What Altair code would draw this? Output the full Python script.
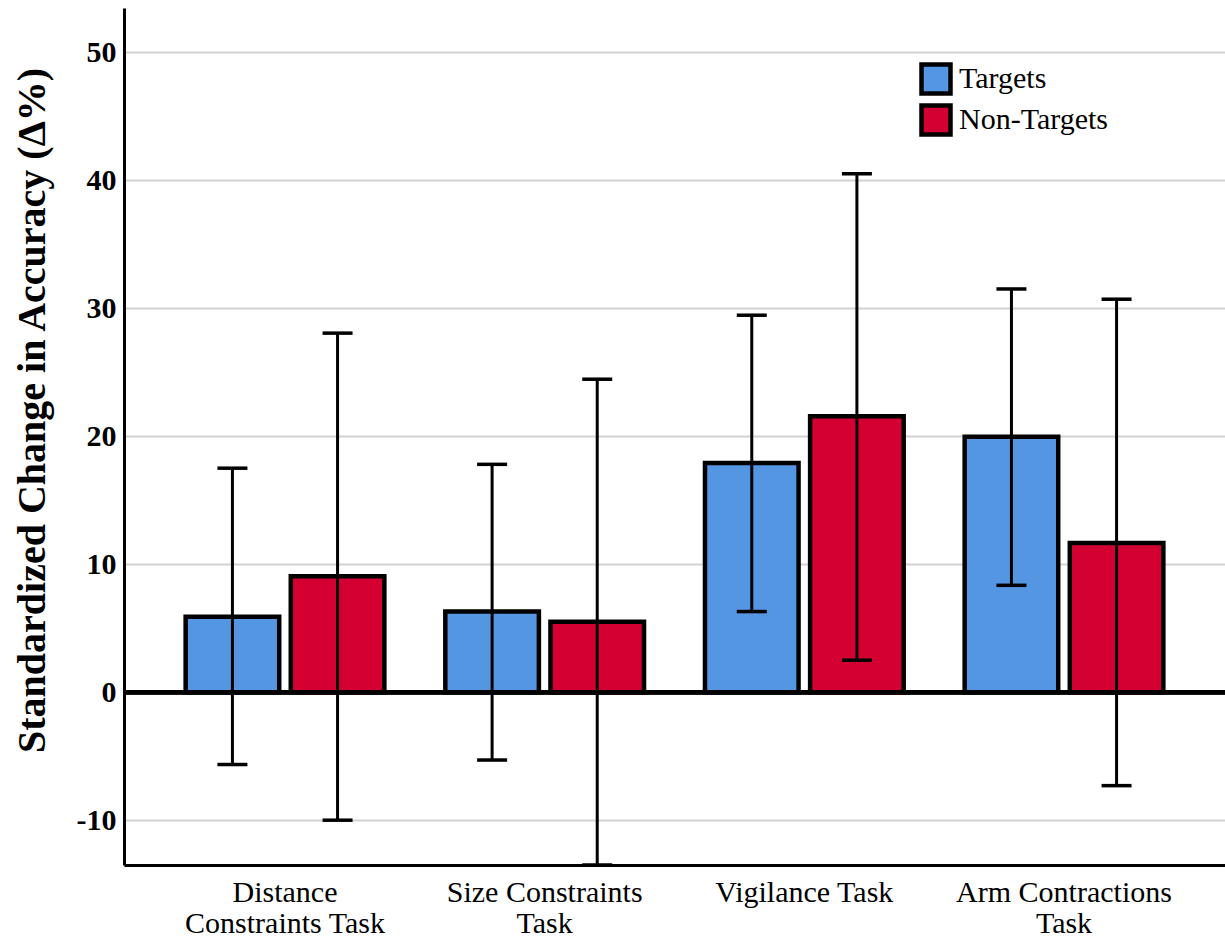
import altair as alt
import pandas as pd

# Task categories ("|" marks a line break in the axis label)
tasks = ["Distance|Constraints Task", "Size Constraints|Task", "Vigilance Task", "Arm Contractions|Task"]
groups = ["Targets", "Non-Targets"]

# Mean standardized change in accuracy (Δ%) with error bar limits
target_mean = [5.9, 6.3, 17.9, 19.95]
target_low = [-5.65, -5.3, 6.3, 8.35]
target_high = [17.5, 17.8, 29.45, 31.5]

nontarget_mean = [9.05, 5.5, 21.55, 11.65]
nontarget_low = [-10.0, -13.5, 2.5, -7.3]
nontarget_high = [28.05, 24.45, 40.5, 30.7]

colors = ["#5596E3", "#D50032"]
FONT = "Liberation Serif"

rows = []
for i, t in enumerate(tasks):
    rows.append(dict(task=t, group=groups[0], mean=target_mean[i],
                     low=target_low[i], high=target_high[i]))
    rows.append(dict(task=t, group=groups[1], mean=nontarget_mean[i],
                     low=nontarget_low[i], high=nontarget_high[i]))
df = pd.DataFrame(rows)

y_title = "Standardized Change in Accuracy (Δ%)"
yscale = alt.Scale(domain=[-13.5, 53.45], nice=False, zero=False)
yaxis = alt.Axis(
    title=y_title, values=[-10, 0, 10, 20, 30, 40, 50], ticks=False,
    labelExpr="'' + datum.value",
    labelFont=FONT, labelFontSize=30, labelFontWeight="bold", labelColor="black",
    labelPadding=8, titleFont=FONT, titleFontSize=40, titleFontWeight="bold",
    titleColor="black", titlePadding=24, titleY=402,
    domainColor="black", domainWidth=3,
    grid=True, gridColor="#d2d2d2", gridWidth=2,
)

xscale = alt.Scale(paddingInner=0, paddingOuter=0.12)
xaxis = alt.Axis(
    title=None, labelAngle=0, ticks=False, labelExpr="split(datum.label, '|')",
    labelFont=FONT, labelFontSize=30, labelColor="black", labelPadding=12,
    labelLineHeight=31, labelLimit=0, domainColor="black", domainWidth=3, grid=False,
)
x_enc = alt.X("task:N", sort=tasks, scale=xscale, axis=xaxis)
xo_enc = alt.XOffset("group:N", sort=groups,
                     scale=alt.Scale(paddingInner=0.11, paddingOuter=0.29))

base = alt.Chart(df)

bars = base.mark_bar(stroke="black", strokeWidth=4.5, opacity=1).encode(
    x=x_enc,
    xOffset=xo_enc,
    y=alt.Y("mean:Q", scale=yscale, axis=yaxis),
    color=alt.Color(
        "group:N", sort=groups,
        scale=alt.Scale(domain=groups, range=colors),
        legend=alt.Legend(
            title=None, orient="none", legendX=795, legendY=54,
            symbolType="square", symbolSize=841, symbolStrokeColor="black",
            symbolStrokeWidth=4.5, symbolOpacity=1,
            labelFont=FONT, labelFontSize=30, labelColor="black",
            labelOffset=6, rowPadding=-30,
        ),
    ),
)

zero_line = base.mark_rule(color="black", strokeWidth=4).encode(
    y=alt.Y(datum=0, scale=yscale, axis=yaxis),
)

err_rule = base.mark_rule(color="black", strokeWidth=3, opacity=1).encode(
    x=x_enc,
    xOffset=xo_enc,
    y=alt.Y("low:Q", scale=yscale, axis=yaxis),
    y2="high:Q",
)

cap_low = base.mark_tick(orient="horizontal", size=30, thickness=3.5,
                         color="black", opacity=1).encode(
    x=x_enc,
    xOffset=xo_enc,
    y=alt.Y("low:Q", scale=yscale, axis=yaxis),
)
cap_high = base.mark_tick(orient="horizontal", size=30, thickness=3.5,
                          color="black", opacity=1).encode(
    x=x_enc,
    xOffset=xo_enc,
    y=alt.Y("high:Q", scale=yscale, axis=yaxis),
)

chart = alt.layer(bars, zero_line, err_rule, cap_low, cap_high).properties(
    width=1101,
    height=857,
    autosize=alt.AutoSizeParams(type="none"),
    padding={"left": 124, "top": 8, "right": 0, "bottom": 76},
    background="white",
).configure_view(stroke=None)

chart.save("out.html", embed_options={"renderer": "svg", "actions": False})
